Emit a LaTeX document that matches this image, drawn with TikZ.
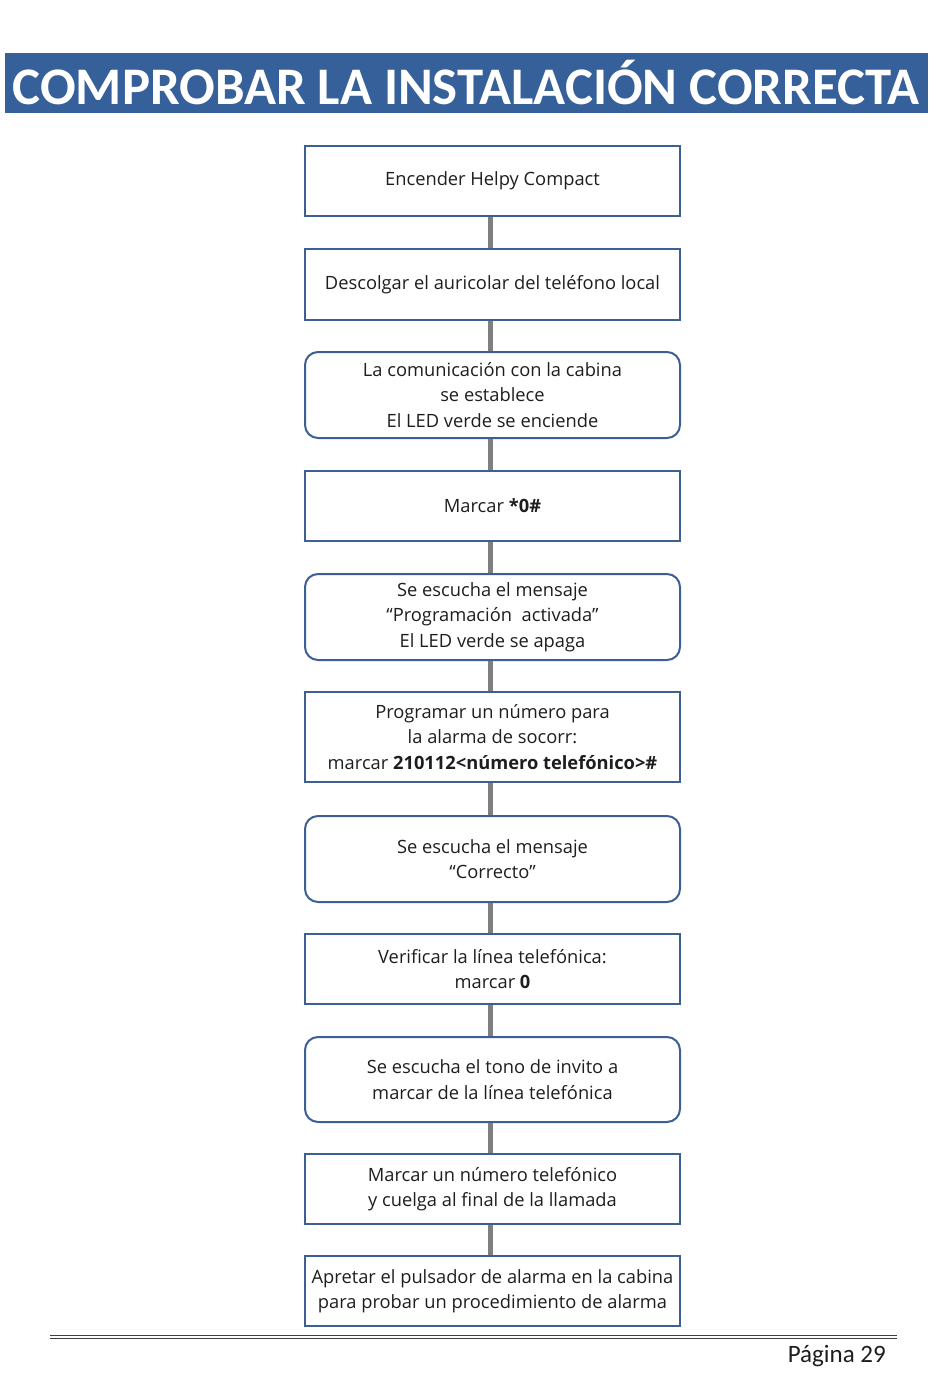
\documentclass[tikz,border=0pt]{standalone}
\usepackage{fontspec}
\setmainfont{Open Sans}
\newfontfamily\titlefont{Carlito}
\definecolor{barblue}{HTML}{36609A}
\definecolor{edgeblue}{HTML}{3C5F94}
\definecolor{conngray}{HTML}{7F7F7F}
\definecolor{txt}{HTML}{1E1E1E}
\begin{document}
\begin{tikzpicture}[x=1pt,y=-1pt,
  stepbox/.style={draw=edgeblue, line width=2pt, minimum width=375pt, inner sep=0pt,
    align=center, text=txt, font=\fontsize{18.3}{25.5}\selectfont},
  roundbox/.style={stepbox, rounded corners=13pt},
  conn/.style={draw=conngray, line width=5pt}]
\useasboundingbox (0,0) rectangle (950,1387);
\fill[white] (0,0) rectangle (950,1387);
\fill[barblue] (5,53) rectangle (928,113);
\node[text=white, font=\titlefont\bfseries\fontsize{52.8}{52.8}\selectfont] (title) at (466,83) {COMPROBAR LA INSTALACIÓN CORRECTA};

\node[stepbox, minimum height=70pt] (b1) at (492.5,181) {Encender Helpy Compact};
\node[stepbox, minimum height=71pt] (b2) at (492.5,284.5) {Descolgar el auricolar del teléfono local};
\node[roundbox, minimum height=86pt] (b3) at (492.5,395) {La comunicación con la cabina\\se establece\\El LED verde se enciende};
\node[stepbox, minimum height=70pt] (b4) at (492.5,506) {Marcar \textbf{*0\#}};
\node[roundbox, minimum height=86pt] (b5) at (492.5,617) {Se escucha el mensaje\\“Programación\ \ activada”\\El LED verde se apaga};
\node[stepbox, minimum height=90pt] (b6) at (492.5,737) {Programar un número para\\la alarma de socorr:\\marcar \textbf{210112<número telefónico>\#}};
\node[roundbox, minimum height=86pt] (b7) at (492.5,859) {Se escucha el mensaje\\“Correcto”};
\node[stepbox, minimum height=70pt] (b8) at (492.5,969) {Verificar la línea telefónica:\\marcar \textbf{0}};
\node[roundbox, minimum height=85pt] (b9) at (492.5,1079.5) {Se escucha el tono de invito a\\marcar de la línea telefónica};
\node[stepbox, minimum height=70pt] (b10) at (492.5,1189) {Marcar un número telefónico\\y cuelga al final de la llamada};
\node[stepbox, minimum height=70pt] (b11) at (492.5,1291) {Apretar el pulsador de alarma en la cabina\\para probar un procedimiento de alarma};

\foreach \a/\b in {b1/b2,b2/b3,b3/b4,b4/b5,b5/b6,b6/b7,b7/b8,b8/b9,b9/b10,b10/b11}
  \draw[conn] ([xshift=-2.5pt]\a.south) -- ([xshift=-2.5pt]\b.north);

\draw[line width=1.8pt, black!75] (50,1335.5) -- (897,1335.5);
\draw[line width=0.8pt, black!75] (50,1338.6) -- (897,1338.6);
\node[anchor=east, inner sep=0pt, text=txt, font=\titlefont\fontsize{25}{25}\selectfont] (page) at (886,1356) {Página 29};
\end{tikzpicture}
\end{document}
